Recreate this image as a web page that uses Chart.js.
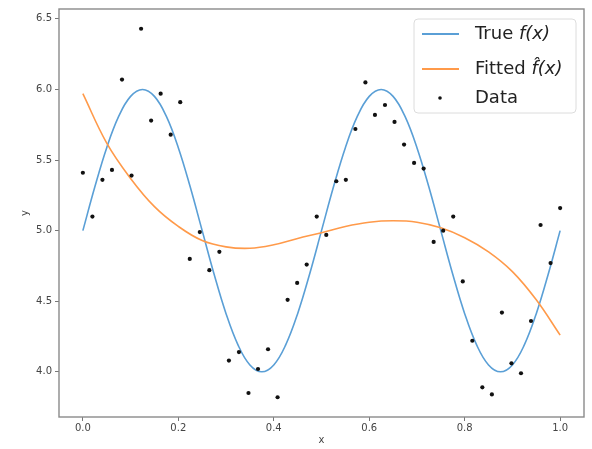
<!DOCTYPE html>
<html>
<head>
<meta charset="utf-8">
<script src="https://cdn.jsdelivr.net/npm/chart.js"></script>
<style>
  body { margin: 0; background: #fff; }
  #chart { display: block; }
</style>
</head>
<body>
<canvas id="chart" width="592" height="449"></canvas>
<script>
// Noisy samples
const sampleX = [0.000, 0.020, 0.041, 0.061, 0.082, 0.102, 0.122, 0.143, 0.163, 0.184,
                 0.204, 0.224, 0.245, 0.265, 0.286, 0.306, 0.327, 0.347, 0.367, 0.388,
                 0.408, 0.429, 0.449, 0.469, 0.490, 0.510, 0.531, 0.551, 0.571, 0.592,
                 0.612, 0.633, 0.653, 0.673, 0.694, 0.714, 0.735, 0.755, 0.776, 0.796,
                 0.816, 0.837, 0.857, 0.878, 0.898, 0.918, 0.939, 0.959, 0.980, 1.000];
const sampleY = [5.41, 5.10, 5.36, 5.43, 6.07, 5.39, 6.43, 5.78, 5.97, 5.68,
                 5.91, 4.80, 4.99, 4.72, 4.85, 4.08, 4.14, 3.85, 4.02, 4.16,
                 3.82, 4.51, 4.63, 4.76, 5.10, 4.97, 5.35, 5.36, 5.72, 6.05,
                 5.82, 5.89, 5.77, 5.61, 5.48, 5.44, 4.92, 5.00, 5.10, 4.64,
                 4.22, 3.89, 3.84, 4.42, 4.06, 3.99, 4.36, 5.04, 4.77, 5.16];

// True curve
const trueX = [0.000, 0.025, 0.050, 0.075, 0.100, 0.125, 0.150, 0.175, 0.200, 0.225,
               0.250, 0.275, 0.300, 0.325, 0.350, 0.375, 0.400, 0.425, 0.450, 0.475,
               0.500, 0.525, 0.550, 0.575, 0.600, 0.625, 0.650, 0.675, 0.700, 0.725,
               0.750, 0.775, 0.800, 0.825, 0.850, 0.875, 0.900, 0.925, 0.950, 0.975, 1.000];
const trueY = [5.000, 5.309, 5.588, 5.809, 5.951, 6.000, 5.951, 5.809, 5.588, 5.309,
               5.000, 4.691, 4.412, 4.191, 4.049, 4.000, 4.049, 4.191, 4.412, 4.691,
               5.000, 5.309, 5.588, 5.809, 5.951, 6.000, 5.951, 5.809, 5.588, 5.309,
               5.000, 4.691, 4.412, 4.191, 4.049, 4.000, 4.049, 4.191, 4.412, 4.691, 5.000];

// Fitted curve
const fitX = [0.00, 0.05, 0.10, 0.15, 0.20, 0.25, 0.30, 0.35, 0.40, 0.45, 0.50,
              0.55, 0.60, 0.65, 0.70, 0.75, 0.80, 0.85, 0.90, 0.95, 1.00];
const fitY = [5.97, 5.62, 5.37, 5.17, 5.03, 4.93, 4.885, 4.875, 4.90, 4.945, 4.985,
              5.03, 5.06, 5.07, 5.06, 5.02, 4.95, 4.85, 4.71, 4.51, 4.26];

const xTicks = [0.0, 0.2, 0.4, 0.6, 0.8, 1.0];
const yTicks = [4.0, 4.5, 5.0, 5.5, 6.0, 6.5];

const toPoints = (xs, ys) => xs.map((x, i) => ({ x: x, y: ys[i] }));

const FONT = 'DejaVu Sans';

// axes box drawn on all four sides
const axesFrame = {
  id: 'axesFrame',
  afterDatasetsDraw(chart) {
    const { ctx, chartArea: a } = chart;
    ctx.save();
    ctx.strokeStyle = '#8a8a8a';
    ctx.lineWidth = 1.4;
    ctx.strokeRect(a.left, a.top, a.right - a.left, a.bottom - a.top);
    ctx.restore();
  }
};

// framed legend in the upper right corner
const legendBox = {
  id: 'legendBox',
  afterDraw(chart) {
    const { ctx, chartArea: a } = chart;
    const x0 = a.right - 170, y0 = a.top + 10, w = 162, h = 94;
    const rows = [y0 + 15, y0 + 50, y0 + 79];
    ctx.save();
    ctx.beginPath();
    ctx.roundRect(x0, y0, w, h, 4);
    ctx.fillStyle = 'rgba(255,255,255,0.8)';
    ctx.fill();
    ctx.strokeStyle = '#dcdcdc';
    ctx.lineWidth = 1;
    ctx.stroke();

    chart.data.datasets.forEach((ds, i) => {
      const y = rows[i];
      if (ds.showLine) {
        ctx.beginPath();
        ctx.moveTo(x0 + 8, y);
        ctx.lineTo(x0 + 45, y);
        ctx.strokeStyle = ds.borderColor;
        ctx.lineWidth = 2;
        ctx.stroke();
      } else {
        ctx.beginPath();
        ctx.arc(x0 + 26, y, 1.8, 0, Math.PI * 2);
        ctx.fillStyle = ds.pointBackgroundColor;
        ctx.fill();
      }
      const m = ds.label.match(/^(\S+ )(.*)$/);
      const plain = m ? m[1] : ds.label;
      const math = m ? m[2] : '';
      ctx.fillStyle = '#222';
      ctx.textBaseline = 'middle';
      ctx.font = '18px "' + FONT + '"';
      ctx.fillText(plain, x0 + 61, y);
      const pw = ctx.measureText(plain).width;
      ctx.font = 'italic 18px "' + FONT + '"';
      ctx.fillText(math, x0 + 61 + pw, y);
    });
    ctx.restore();
  }
};

new Chart(document.getElementById('chart'), {
  type: 'scatter',
  data: {
    datasets: [
      {
        label: 'True f(x)',
        data: toPoints(trueX, trueY),
        showLine: true,
        borderColor: '#5a9fd6',
        borderWidth: 1.6,
        pointRadius: 0,
        tension: 0.4,
        order: 2
      },
      {
        label: 'Fitted f\u0302(x)',
        data: toPoints(fitX, fitY),
        showLine: true,
        borderColor: '#ff9a4a',
        borderWidth: 1.6,
        pointRadius: 0,
        tension: 0.4,
        order: 1
      },
      {
        label: 'Data',
        data: toPoints(sampleX, sampleY),
        showLine: false,
        pointRadius: 2.1,
        pointBackgroundColor: '#111',
        pointBorderWidth: 0,
        order: 0
      }
    ]
  },
  options: {
    responsive: false,
    animation: false,
    layout: { padding: { top: 6, right: 8, left: 0, bottom: 0 } },
    plugins: {
      legend: { display: false },
      tooltip: { enabled: false }
    },
    scales: {
      x: {
        type: 'linear',
        min: -0.05,
        max: 1.05,
        afterFit: s => { s.height = 32; },
        afterBuildTicks: s => { s.ticks = xTicks.map(v => ({ value: v })); },
        ticks: {
          padding: 1,
          color: '#444',
          font: { family: FONT, size: 10 },
          callback: v => v.toFixed(1)
        },
        grid: { drawOnChartArea: false, tickLength: 4, color: '#777' },
        border: { display: false },
        title: {
          display: true,
          text: 'x',
          color: '#444',
          font: { family: FONT, size: 10 },
          padding: { top: 0, bottom: 3 }
        }
      },
      y: {
        min: 3.68,
        max: 6.57,
        afterFit: s => { s.width = 59; },
        afterBuildTicks: s => { s.ticks = yTicks.map(v => ({ value: v })); },
        ticks: {
          padding: 3,
          color: '#444',
          font: { family: FONT, size: 10 },
          callback: v => v.toFixed(1)
        },
        grid: { drawOnChartArea: false, tickLength: 4, color: '#777' },
        border: { display: false },
        title: {
          display: true,
          text: 'y',
          color: '#444',
          font: { family: FONT, size: 10 },
          padding: { top: 19, bottom: 0 }
        }
      }
    }
  },
  plugins: [axesFrame, legendBox]
});
</script>
</body>
</html>
